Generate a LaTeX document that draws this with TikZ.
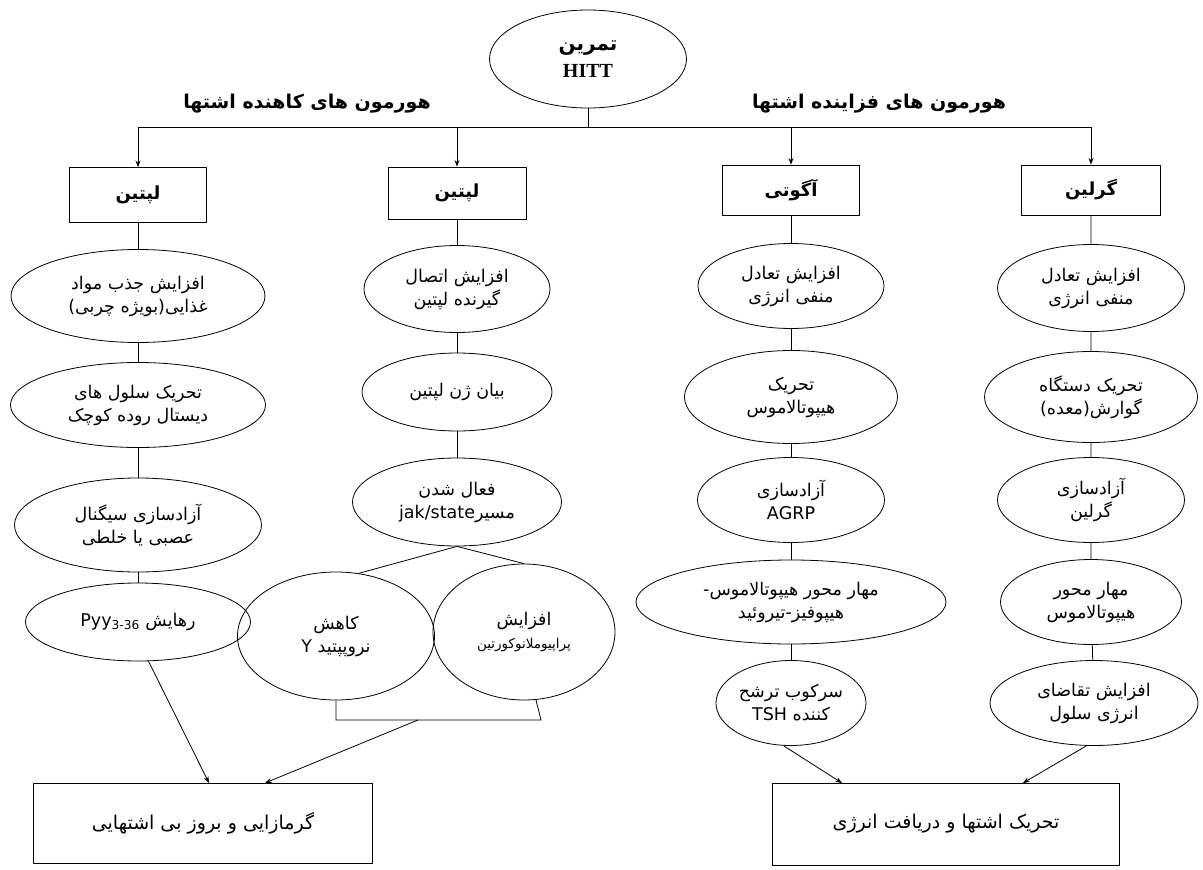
\documentclass[tikz,border=0pt]{standalone}
\usepackage{fontspec}
\setmainfont{DejaVu Sans}
\newfontfamily\farsi[Script=Arabic]{DejaVu Sans}
\newfontfamily\latinserif{Liberation Serif}
\TeXXeTstate=1
\usetikzlibrary{arrows.meta, positioning, calc, shapes.geometric}
\newcommand{\fa}[1]{\beginR #1\endR}
\newcommand{\la}[1]{\beginL #1\endL}

\begin{document}
\begin{tikzpicture}[x=1pt, y=-1pt, >=Stealth, line width=0.8pt,
    sz/.style 2 args={minimum width=#1pt, minimum height=#2pt},
    oval/.style={ellipse, draw, inner sep=0pt, align=center, font=\farsi\fontsize{17.5}{23}\selectfont},
    hormone/.style={rectangle, draw, inner sep=0pt, font=\farsi\bfseries\fontsize{18}{20}\selectfont},
    outcome/.style={rectangle, draw, inner sep=0pt, font=\farsi\fontsize{19}{22}\selectfont},
    group/.style={font=\farsi\bfseries\fontsize{19}{22}\selectfont}]
    \useasboundingbox (0,0) rectangle (1203,870);
    \fill[white] (0,0) rectangle (1203,870);
    % exercise and the two hormone groups
    \node[oval, sz={197}{98}, font=\farsi\bfseries\fontsize{20}{27}\selectfont] (hitt) at (588,59) {\fa{تمرین}\\{\latinserif\bfseries\fontsize{20}{27}\selectfont HITT}};
    \node[group] (down) at (307,104) {\fa{هورمون های کاهنده اشتها}};
    \node[group] (up) at (879,104) {\fa{هورمون های فزاینده اشتها}};
    \coordinate (bar) at (hitt.south |- 0,127);
    % hormones
    \node[hormone, sz={137}{55}] (lep1) at (138,195) {\fa{لپتین}};
    \node[hormone, sz={138}{52}] (lep2) at (457,193) {\fa{لپتین}};
    \node[hormone, sz={137}{50}] (agouti) at (791,190) {\fa{آگوتی}};
    \node[hormone, sz={139}{50}] (ghrelin) at (1091,190) {\fa{گرلین}};
    \draw (hitt) -- (bar);
    \foreach \h in {lep1, lep2, agouti, ghrelin}
        \draw[->] (bar) -| (\h);
    % first leptin column
    \node[oval, sz={254}{93}] (l1) at (138,296) {\fa{افزایش جذب مواد}\\\fa{غذایی(بویژه چربی)}};
    \node[oval, sz={255}{85}] (l2) at (138,405) {\fa{تحریک سلول های}\\\fa{دیستال روده کوچک}};
    \node[oval, sz={247}{94}] (l3) at (138,525) {\fa{آزادسازی سیگنال}\\\fa{عصبی یا خلطی}};
    \node[oval, sz={225}{78}] (l4) at (138,622) {\fa{رهایش \la{Pyy\textsubscript{3-36}}}};
    % second leptin column
    \node[oval, sz={186}{87}] (m1) at (457,289) {\fa{افزایش اتصال}\\\fa{گیرنده لپتین}};
    \node[oval, sz={190}{78}] (m2) at (457,392) {\fa{بیان ژن لپتین}};
    \node[oval, sz={209}{88}] (m3) at (457,502) {\fa{فعال شدن}\\\fa{مسیر\la{jak/state}}};
    \node[oval, sz={197}{128}] (m4) at (336,636) {\fa{کاهش}\\\fa{نروپپتید \la{Y}}};
    \node[oval, sz={182}{136}] (m5) at (524,632) {\fa{افزایش}\\{\fontsize{13.5}{23}\selectfont\fa{پراپیوملانوکورتین}}};
    % agouti column
    \node[oval, sz={186}{85}] (a1) at (791,286) {\fa{افزایش تعادل}\\\fa{منفی انرژی}};
    \node[oval, sz={213}{93}] (a2) at (791,397) {\fa{تحریک}\\\fa{هیپوتالاموس}};
    \node[oval, sz={187}{85}] (a3) at (791,500) {\fa{آزادسازی}\\\la{AGRP}};
    \node[oval, sz={310}{84}] (a4) at (791,602) {\fa{مهار محور هیپوتالاموس-}\\\fa{هیپوفیز-تیروئید}};
    \node[oval, sz={150}{85}] (a5) at (791,703) {\fa{سرکوب ترشح}\\\fa{کننده \la{TSH}}};
    % ghrelin column
    \node[oval, sz={187}{87}] (r1) at (1091,288) {\fa{افزایش تعادل}\\\fa{منفی انرژی}};
    \node[oval, sz={213}{91}] (r2) at (1091,397) {\fa{تحریک دستگاه}\\\fa{گوارش(معده)}};
    \node[oval, sz={187}{85}] (r3) at (1091,500) {\fa{آزادسازی}\\\fa{گرلین}};
    \node[oval, sz={181}{85}] (r4) at (1091,602) {\fa{مهار محور}\\\fa{هیپوتالاموس}};
    \node[oval, sz={208}{85}] (r5) at (1094,703) {\fa{افزایش تقاضای}\\\fa{انرژی سلول}};
    % outcomes
    \node[outcome, sz={339}{80}] (anorexia) at (203,823) {\fa{گرمازایی و بروز بی اشتهایی}};
    \node[outcome, sz={347}{82}] (intake) at (946,824) {\fa{تحریک اشتها و دریافت انرژی}};
    \coordinate (inA) at (209,783);
    \coordinate (inB) at (265,783);
    \coordinate (inC) at (842,783);
    \coordinate (inD) at (1023,783);
    % chains
    \draw (lep1) -- (l1) -- (l2) -- (l3) -- (l4);
    \draw (lep2) -- (m1) -- (m2) -- (m3);
    \draw (agouti) -- (a1) -- (a2) -- (a3) -- (a4) -- (a5);
    \draw (ghrelin) -- (r1) -- (r2) -- (r3) -- (r4) -- (r5);
    \draw (m3.south) -- (m4.70);
    \draw (m3.south) -- (m5.north);
    \draw (m4.south) |- (541,720) -- (m5.-80);
    \coordinate (brkout) at (418,720);
    \draw[->] (l4.-75) -- (inA);
    \draw[->] (brkout) -- (inB);
    \draw[->] (a5.-100) -- (inC);
    \draw[->] (r5.-100) -- (inD);
\end{tikzpicture}
\end{document}
